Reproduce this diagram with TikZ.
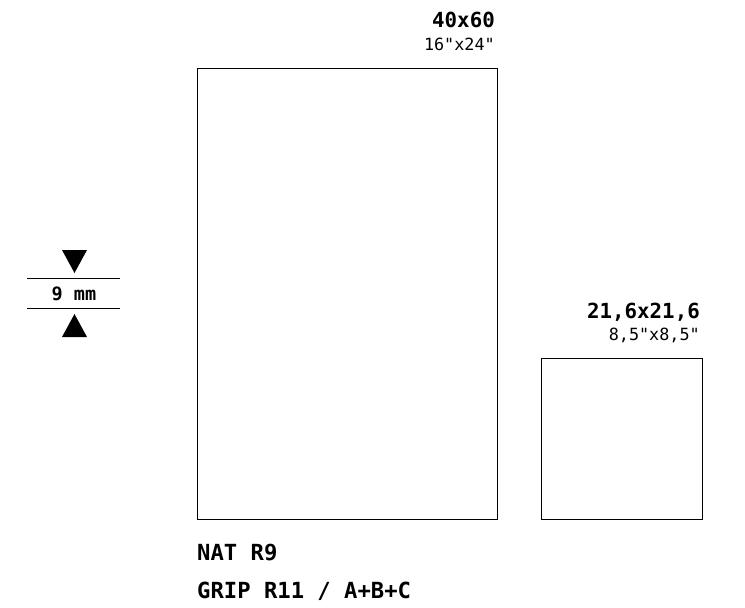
\documentclass[tikz,border=0pt]{standalone}
\usepackage{fontspec}
\setmonofont{DejaVu Sans Mono}
\begin{document}
\begin{tikzpicture}[x=1pt,y=-1pt,
  frame/.style={draw=black,line width=1pt,inner sep=0pt,outer sep=0pt},
  head/.style={inner sep=0pt,anchor=base east,font=\ttfamily\bfseries\fontsize{20.8}{24}\selectfont},
  sub/.style={inner sep=0pt,anchor=base east,font=\ttfamily\fontsize{16.8}{20}\selectfont},
  foot/.style={inner sep=0pt,anchor=base west,font=\ttfamily\bfseries\fontsize{22.2}{26}\selectfont},
  gauge/.style={inner sep=0pt,anchor=base,font=\ttfamily\bfseries\fontsize{18.5}{22}\selectfont},
  rule/.style={draw=black,line width=1pt},
  tri/.style={fill=black}]
\path[use as bounding box] (0,0) rectangle (745,608);
% frames
\node[frame,minimum width=300pt,minimum height=451pt,anchor=north west] (big) at (197.5,68.5) {};
\node[frame,minimum width=161pt,minimum height=161pt,anchor=north west] (small) at (541.5,358.5) {};
% labels big
\node[head] (bigt) at (495,27) {40x60};
\node[sub] (bigs) at (495,50) {16"x24"};
% labels small
\node[head] (smallt) at (700,318) {21,6x21,6};
\node[sub] (smalls) at (700,340) {8,5"x8,5"};
% footer
\node[foot] (nat) at (197,560) {NAT R9};
\node[foot] (grip) at (197,598) {GRIP R11 / A+B+C};
% gauge
\coordinate (gl1) at (27,278.5);
\coordinate (gr1) at (120,278.5);
\coordinate (gl2) at (27,308.5);
\coordinate (gr2) at (120,308.5);
\draw[rule] (gl1) -- (gr1);
\draw[rule] (gl2) -- (gr2);
\node[gauge] (nine) at (74,300) {9 mm};
\fill[tri] (62,250) -- (87,250) -- (74.5,273) -- cycle;
\fill[tri] (62,337) -- (87,337) -- (74.5,314) -- cycle;
\end{tikzpicture}
\end{document}
